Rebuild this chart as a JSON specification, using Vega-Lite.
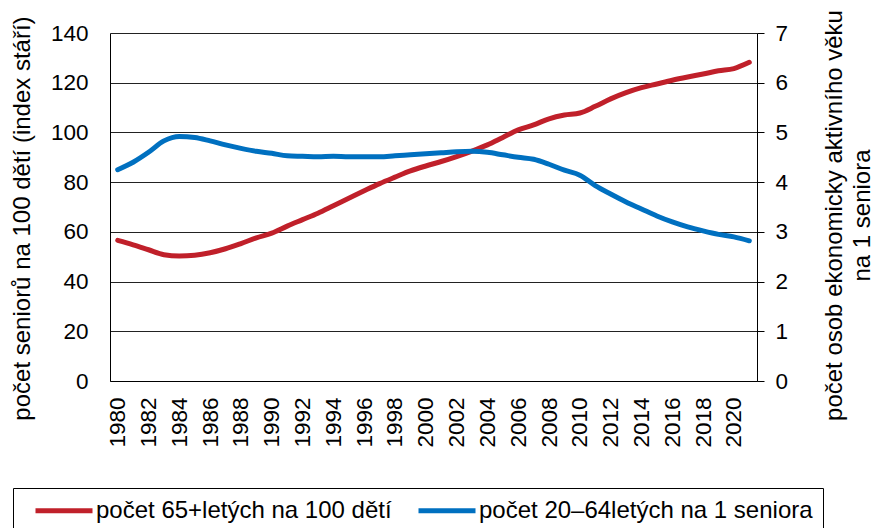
{
  "$schema": "https://vega.github.io/schema/vega-lite/v6.json",
  "width": 647,
  "height": 348,
  "autosize": "none",
  "padding": {"left": 110, "top": 33, "right": 117, "bottom": 147},
  "background": "white",
  "config": {
    "font": "Liberation Sans",
    "view": {"stroke": null},
    "axis": {"labelFont": "Liberation Sans", "titleFont": "Liberation Sans", "labelColor": "#000", "titleColor": "#000", "labelFontSize": 22.5, "titleFontSize": 24, "titleFontWeight": "normal", "domainColor": "#000", "tickColor": "#000"}
  },
  "data": {"values": [
    {"year": 1980, "index": 56.6, "ratio": 4.25},
    {"year": 1981, "index": 54.8, "ratio": 4.40},
    {"year": 1982, "index": 52.8, "ratio": 4.60},
    {"year": 1983, "index": 50.8, "ratio": 4.83},
    {"year": 1984, "index": 50.3, "ratio": 4.92},
    {"year": 1985, "index": 50.6, "ratio": 4.90},
    {"year": 1986, "index": 51.6, "ratio": 4.83},
    {"year": 1987, "index": 53.2, "ratio": 4.75},
    {"year": 1988, "index": 55.3, "ratio": 4.68},
    {"year": 1989, "index": 57.6, "ratio": 4.62},
    {"year": 1990, "index": 59.5, "ratio": 4.58},
    {"year": 1991, "index": 62.3, "ratio": 4.53},
    {"year": 1992, "index": 64.9, "ratio": 4.52},
    {"year": 1993, "index": 67.5, "ratio": 4.51},
    {"year": 1994, "index": 70.5, "ratio": 4.52},
    {"year": 1995, "index": 73.5, "ratio": 4.51},
    {"year": 1996, "index": 76.5, "ratio": 4.51},
    {"year": 1997, "index": 79.4, "ratio": 4.51},
    {"year": 1998, "index": 82.0, "ratio": 4.53},
    {"year": 1999, "index": 84.5, "ratio": 4.55},
    {"year": 2000, "index": 86.5, "ratio": 4.57},
    {"year": 2001, "index": 88.3, "ratio": 4.59},
    {"year": 2002, "index": 90.3, "ratio": 4.61},
    {"year": 2003, "index": 92.5, "ratio": 4.62},
    {"year": 2004, "index": 95.0, "ratio": 4.60},
    {"year": 2005, "index": 98.0, "ratio": 4.55},
    {"year": 2006, "index": 101.0, "ratio": 4.50},
    {"year": 2007, "index": 103.0, "ratio": 4.46},
    {"year": 2008, "index": 105.5, "ratio": 4.36},
    {"year": 2009, "index": 107.0, "ratio": 4.24},
    {"year": 2010, "index": 107.8, "ratio": 4.14},
    {"year": 2011, "index": 110.5, "ratio": 3.93},
    {"year": 2012, "index": 113.5, "ratio": 3.76},
    {"year": 2013, "index": 116.0, "ratio": 3.60},
    {"year": 2014, "index": 118.0, "ratio": 3.46},
    {"year": 2015, "index": 119.5, "ratio": 3.32},
    {"year": 2016, "index": 121.0, "ratio": 3.20},
    {"year": 2017, "index": 122.3, "ratio": 3.10},
    {"year": 2018, "index": 123.5, "ratio": 3.02},
    {"year": 2019, "index": 124.8, "ratio": 2.95},
    {"year": 2020, "index": 125.7, "ratio": 2.90},
    {"year": 2021, "index": 128.2, "ratio": 2.82}
  ]},
  "encoding": {
    "x": {
      "field": "year", "type": "ordinal",
      "scale": {"type": "point", "padding": 0.5},
      "axis": {"title": null, "labelAngle": -90, "ticks": false, "labelPadding": 16, "domainWidth": 1,
        "labelExpr": "datum.value % 2 == 0 ? datum.label : ''"}
    }
  },
  "layer": [
    {
      "mark": {"type": "line", "strokeWidth": 5, "strokeCap": "round", "interpolate": "monotone"},
      "encoding": {
        "y": {"field": "index", "type": "quantitative",
          "scale": {"domain": [0, 140], "nice": false},
          "axis": {"values": [0, 20, 40, 60, 80, 100, 120, 140], "grid": true, "gridColor": "#222", "gridOpacity": 1, "ticks": false, "labelPadding": 22,
            "title": "počet seniorů na 100 dětí (index stáří)", "titleAngle": -90, "titleX": -88, "titleY": 185, "titleAlign": "center", "titleBaseline": "middle"}},
        "color": {"datum": "počet 65+letých na 100 dětí",
          "scale": {"domain": ["počet 65+letých na 100 dětí", "počet 20–64letých na 1 seniora"], "range": ["#C0202A", "#0070C0"]},
          "legend": {"title": null, "orient": "none", "legendX": -97, "legendY": 455, "direction": "horizontal",
            "strokeColor": "#000", "fillColor": "#fff", "padding": 10, "labelFontSize": 24, "labelFont": "Liberation Sans", "labelColor": "#000", "labelLimit": 600,
            "symbolType": "M0,0H5.7", "symbolSize": 400, "symbolStrokeWidth": 5, "labelOffset": 48, "columnPadding": 14}}
      }
    },
    {
      "mark": {"type": "line", "strokeWidth": 5, "strokeCap": "round", "interpolate": "monotone"},
      "encoding": {
        "y": {"field": "ratio", "type": "quantitative",
          "scale": {"domain": [0, 7], "nice": false},
          "axis": {"orient": "right", "values": [0, 1, 2, 3, 4, 5, 6, 7], "grid": false, "ticks": true, "tickSize": 7, "labelPadding": 11,
            "title": ["počet osob ekonomicky aktivního věku", "na 1 seniora"], "titleAngle": -90, "titleX": 65, "titleY": 182, "titleAlign": "center", "titleBaseline": "top", "titleLineHeight": 28}},
        "color": {"datum": "počet 20–64letých na 1 seniora"}
      }
    }
  ],
  "resolve": {"scale": {"y": "independent"}}
}
